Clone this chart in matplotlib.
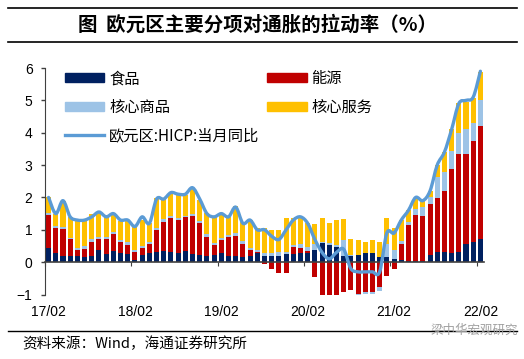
import numpy as np
import matplotlib
matplotlib.use("Agg")
import matplotlib.pyplot as plt
from matplotlib.lines import Line2D
from matplotlib.patches import Patch, PathPatch
from matplotlib.path import Path

plt.rcParams['font.family'] = ['Liberation Sans', 'Noto Sans CJK SC', 'DejaVu Sans']
cjk = ['Noto Sans CJK SC', 'DejaVu Sans']

# months 17/02 .. 22/02
months = [f"{y:02d}/{m:02d}" for y in range(17, 23) for m in range(1, 13)][1:62]
tick_labels = ["17/02", "18/02", "19/02", "20/02", "21/02", "22/02"]

food = [0.44, 0.27, 0.20, 0.20, 0.19, 0.16, 0.19, 0.38, 0.26, 0.33, 0.29, 0.25,
        0.08, 0.22, 0.28, 0.32, 0.34, 0.31, 0.29, 0.33, 0.25, 0.21, 0.20, 0.21,
        0.29, 0.19, 0.19, 0.16, 0.19, 0.27, 0.19, 0.19, 0.19, 0.25, 0.25, 0.27,
        0.29, 0.37, 0.58, 0.53, 0.47, 0.19, 0.19, 0.22, 0.27, 0.27, 0.16, 0.16,
        0.11, 0.08, 0.02, 0.02, 0.02, 0.21, 0.30, 0.30, 0.27, 0.32, 0.56, 0.61, 0.73]
energy = [1.02, 0.80, 0.82, 0.50, 0.18, 0.24, 0.43, 0.33, 0.45, 0.53, 0.32, 0.28,
          0.24, 0.23, 0.28, 0.67, 0.91, 1.04, 1.01, 1.05, 1.17, 0.99, 0.59, 0.32,
          0.39, 0.58, 0.62, 0.41, 0.19, 0.05, -0.06, -0.20, -0.33, -0.33, 0.22, 0.16,
          0.05, -0.47, -1.05, -1.05, -1.00, -0.92, -0.87, -0.97, -0.92, -0.92, -0.76, -0.43,
          -0.20, 0.49, 1.12, 1.44, 1.40, 1.59, 1.67, 1.90, 2.60, 3.01, 2.79, 3.13, 3.47]
core_goods = [0.07, 0.06, 0.06, 0.06, 0.08, 0.10, 0.08, 0.07, 0.06, 0.07, 0.07, 0.10,
              0.07, 0.06, 0.06, 0.05, 0.07, 0.07, 0.05, 0.05, 0.06, 0.07, 0.07, 0.07,
              0.08, 0.07, 0.08, 0.08, 0.07, 0.07, 0.08, 0.08, 0.13, 0.07, 0.07, 0.12,
              0.13, 0.20, 0.05, 0.05, 0.05, 0.49, 0.02, -0.05, -0.05, -0.05, -0.12, 0.39,
              0.28, 0.07, 0.11, 0.17, 0.29, 0.21, 0.67, 0.59, 0.55, 0.65, 0.78, 0.55, 0.82]
core_services = [0.47, 0.37, 0.80, 0.64, 0.85, 0.80, 0.80, 0.75, 0.70, 0.60, 0.60, 0.65,
                 0.70, 0.79, 0.58, 0.93, 0.65, 0.72, 0.72, 0.64, 0.80, 0.65, 0.65, 0.80,
                 0.74, 0.57, 0.85, 0.59, 0.86, 0.65, 0.80, 0.72, 0.67, 1.03, 0.81, 0.85,
                 0.73, 0.62, 0.72, 0.62, 0.78, 0.64, 0.50, 0.46, 0.36, 0.41, 0.47, 0.80,
                 0.68, 0.65, 0.36, 0.31, 0.23, 0.20, 0.36, 0.62, 0.68, 0.93, 0.82, 0.77, 0.86]
hicp = [2.0, 1.5, 1.9, 1.4, 1.3, 1.3, 1.4, 1.55, 1.4, 1.5, 1.3, 1.3,
        1.1, 1.4, 1.2, 1.95, 1.95, 2.15, 2.1, 2.1, 2.3, 1.95, 1.5, 1.4,
        1.5, 1.4, 1.7, 1.2, 1.3, 1.0, 1.0, 0.8, 0.7, 1.0, 1.3, 1.4,
        1.2, 0.7, 0.3, 0.1, 0.3, 0.4, -0.2, -0.3, -0.3, -0.3, -0.3, 0.9,
        0.9, 1.3, 1.6, 2.0, 1.9, 2.2, 3.0, 3.4, 4.1, 4.9, 5.0, 5.1, 5.9]

names = ["食品", "能源", "核心商品", "核心服务"]
colors = ["#002060", "#C00000", "#9DC3E6", "#FFC000"]
line_color = "#5B9BD5"

fig = plt.figure(figsize=(5.24, 3.59), dpi=100)
ax = fig.add_axes([45 / 524, 1 - 294.5 / 359, 439 / 524, 226.5 / 359])

x = np.arange(len(months))
pos_base = np.zeros(len(x))
neg_base = np.zeros(len(x))
for vals, c in zip([food, energy, core_goods, core_services], colors):
    v = np.array(vals)
    bottom = np.where(v >= 0, pos_base, neg_base)
    ax.bar(x, v, bottom=bottom, width=0.7, color=c, linewidth=0)
    pos_base += np.where(v >= 0, v, 0)
    neg_base += np.where(v < 0, v, 0)

# smoothed line like excel: catmull-rom segments as bezier path
pts = np.column_stack([x, hicp]).astype(float)
ext = np.vstack([pts[0], pts, pts[-1]])
verts = [pts[0]]
codes = [Path.MOVETO]
for k in range(len(pts) - 1):
    p0, p1, p2, p3 = ext[k], ext[k + 1], ext[k + 2], ext[k + 3]
    verts += [p1 + (p2 - p0) / 6, p2 - (p3 - p1) / 6, p2]
    codes += [Path.CURVE4] * 3
ax.add_patch(PathPatch(Path(verts, codes), fill=False, edgecolor=line_color, lw=2.4,
                       capstyle='round', joinstyle='round', zorder=3))

ax.set_xlim(-0.5, len(x) - 0.5)
ax.set_ylim(-1, 6)
ax.set_yticks(range(-1, 7))
ax.tick_params(axis='y', labelsize=10, length=3, width=1, pad=6, color='#404040')
for s in ['top', 'right']:
    ax.spines[s].set_visible(False)
ax.spines['left'].set_color('#404040')
ax.spines['bottom'].set_position(('data', 0))
ax.spines['bottom'].set_color('#404040')
ax.spines['bottom'].set_linewidth(1.2)
ax.set_xticks(np.arange(-0.5, len(x), 12))
ax.set_xticklabels([])
ax.tick_params(axis='x', length=3, color='#404040')

for i, lab in enumerate(tick_labels):
    ax.text(i * 12, -1.55, lab, ha='center', va='center', fontsize=10)

handles = [Patch(color=colors[0]), Patch(color=colors[2]),
           Line2D([], [], color=line_color, lw=2.4),
           Patch(color=colors[1]), Patch(color=colors[3])]
labels = [names[0], names[2], "欧元区:HICP:当月同比", names[1], names[3]]
ax.legend(handles, labels, ncol=2, loc='upper left', bbox_to_anchor=(0.045, 0.99),
          frameon=False, borderpad=0, borderaxespad=0, handlelength=2.6, handleheight=0.55,
          columnspacing=0.5, labelspacing=0.75, handletextpad=0.3,
          prop={'family': cjk, 'size': 11})

# title and frame lines
fig.add_artist(Line2D([8 / 524, 517 / 524], [1 - 8 / 359, 1 - 8 / 359], color='black', lw=1.2))
fig.add_artist(Line2D([8 / 524, 517 / 524], [1 - 42 / 359, 1 - 42 / 359], color='black', lw=1.2))
fig.text(258 / 524, 1 - 25 / 359, "图  欧元区主要分项对通胀的拉动率（%）", ha='center', va='center',
         fontsize=14, fontweight='bold', family=cjk)
fig.add_artist(Line2D([8 / 524, 517 / 524], [1 - 331 / 359, 1 - 331 / 359], color='black', lw=1.0))
fig.text(22 / 524, 1 - 344 / 359, "资料来源：Wind，海通证券研究所", ha='left', va='center',
         fontsize=10.5, family=cjk)
fig.text(518 / 524, 1 - 330 / 359, "梁中华宏观研究", ha='right', va='center',
         fontsize=9, color='#A0A0A0', family=cjk)

fig.savefig("out.png", dpi=100)
